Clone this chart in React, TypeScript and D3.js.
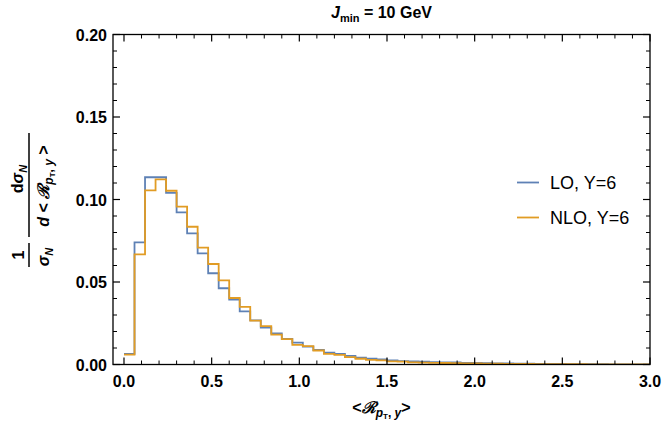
import React from "react";
import * as d3 from "d3";

// histogram bins: 50 bins of width 0.06 starting at 0
const binStart = 0;
const binWidth = 0.06;

const loValues = [
  0.0065, 0.074, 0.1135, 0.1135, 0.104, 0.0922, 0.0795, 0.0674, 0.0553, 0.0462,
  0.0393, 0.0322, 0.0268, 0.0223, 0.0189, 0.0155, 0.0132, 0.0108, 0.0088, 0.0072,
  0.0064, 0.0052, 0.0041, 0.0035, 0.0031, 0.0025, 0.0021, 0.0019, 0.0017, 0.0015,
  0.0013, 0.0012, 0.001, 0.0009, 0.0008, 0.0007, 0.0006, 0.0005, 0.00045, 0.0004,
  0.00035, 0.0003, 0.00026, 0.00022, 0.0002, 0.00016, 0.00013, 0.00011, 0.0001, 0.00008,
];

const nloValues = [
  0.006, 0.0668, 0.1055, 0.1122, 0.1053, 0.0957, 0.0835, 0.0708, 0.0609, 0.051,
  0.0403, 0.0349, 0.0266, 0.0233, 0.0181, 0.0154, 0.0119, 0.0111, 0.0085, 0.0065,
  0.0058, 0.0045, 0.0035, 0.0028, 0.0025, 0.0019, 0.0017, 0.0013, 0.0011, 0.001,
  0.0009, 0.0008, 0.0007, 0.0006, 0.0005, 0.00045, 0.0004, 0.00035, 0.0003, 0.00026,
  0.00022, 0.0002, 0.00017, 0.00014, 0.00012, 0.0001, 0.00008, 0.00007, 0.00006, 0.00005,
];

const seriesNames = ["LO, Y=6", "NLO, Y=6"];
const seriesColors = ["#5E81B5", "#E19C24"];

const xMajorTicks = [0, 0.5, 1.0, 1.5, 2.0, 2.5, 3.0];
const xTickLabels = ["0.0", "0.5", "1.0", "1.5", "2.0", "2.5", "3.0"];
const yMajorTicks = [0, 0.05, 0.1, 0.15, 0.2];
const yTickLabels = ["0.00", "0.05", "0.10", "0.15", "0.20"];

const W = 664;
const H = 426;
const frame = { left: 113, right: 650, top: 34.5, bottom: 364.5 };
const font = "'Liberation Sans', Arial, sans-serif";

const App = () => {
  const x = d3.scaleLinear().domain([-0.0627, 3.0]).range([frame.left, frame.right]);
  const y = d3.scaleLinear().domain([0, 0.2]).range([frame.bottom, frame.top]);

  const xMinor = d3.range(0, 31).map((i) => i / 10).filter((v) => !xMajorTicks.some((m) => Math.abs(m - v) < 1e-9));
  const yMinor = d3.range(0, 21).map((i) => i / 100).filter((v) => !yMajorTicks.some((m) => Math.abs(m - v) < 1e-9));

  const stepLine = d3
    .line<[number, number]>()
    .x((d) => x(d[0]))
    .y((d) => y(d[1]))
    .curve(d3.curveStepAfter);

  const toPoints = (vals: number[]): [number, number][] => {
    const pts: [number, number][] = vals.map((v, i) => [binStart + i * binWidth, v]);
    pts.push([binStart + vals.length * binWidth, vals[vals.length - 1]]);
    return pts;
  };

  const series = [loValues, nloValues];
  const majorLen = 7;
  const minorLen = 4;

  return (
    <svg width={W} height={H} style={{ position: "absolute", left: 0, top: 0, background: "#fff" }} fontFamily={font}>
      <rect width={W} height={H} fill="#fff" />

      {/* title */}
      <text x={(frame.left + frame.right) / 2} y={18} textAnchor="middle" fontSize={16} fontWeight="bold">
        <tspan fontStyle="italic">J</tspan>
        <tspan fontSize={11} dy={4}>min</tspan>
        <tspan dy={-4}> = 10  GeV</tspan>
      </text>

      {/* histograms */}
      <g clipPath="url(#clip)">
        {series.map((vals, i) => (
          <path key={i} d={stepLine(toPoints(vals)) || ""} fill="none" stroke={seriesColors[i]} strokeWidth={1.8} />
        ))}
      </g>
      <defs>
        <clipPath id="clip">
          <rect x={frame.left} y={frame.top} width={frame.right - frame.left} height={frame.bottom - frame.top} />
        </clipPath>
      </defs>

      {/* frame */}
      <rect
        x={frame.left}
        y={frame.top}
        width={frame.right - frame.left}
        height={frame.bottom - frame.top}
        fill="none"
        stroke="#000"
        strokeWidth={1.3}
      />

      {/* x ticks */}
      {xMajorTicks.map((t) => (
        <g key={"xm" + t}>
          <line x1={x(t)} x2={x(t)} y1={frame.bottom} y2={frame.bottom - majorLen} stroke="#000" strokeWidth={1.2} />
          <line x1={x(t)} x2={x(t)} y1={frame.top} y2={frame.top + majorLen} stroke="#000" strokeWidth={1.2} />
        </g>
      ))}
      {xMinor.map((t) => (
        <g key={"xn" + t}>
          <line x1={x(t)} x2={x(t)} y1={frame.bottom} y2={frame.bottom - minorLen} stroke="#000" strokeWidth={1} />
          <line x1={x(t)} x2={x(t)} y1={frame.top} y2={frame.top + minorLen} stroke="#000" strokeWidth={1} />
        </g>
      ))}
      {xMajorTicks.map((t, i) => (
        <text key={"xl" + t} x={x(t)} y={387} textAnchor="middle" fontSize={16} fontWeight="bold">
          {xTickLabels[i]}
        </text>
      ))}

      {/* y ticks */}
      {yMajorTicks.map((t) => (
        <g key={"ym" + t}>
          <line x1={frame.left} x2={frame.left + majorLen} y1={y(t)} y2={y(t)} stroke="#000" strokeWidth={1.2} />
          <line x1={frame.right} x2={frame.right - majorLen} y1={y(t)} y2={y(t)} stroke="#000" strokeWidth={1.2} />
        </g>
      ))}
      {yMinor.map((t) => (
        <g key={"yn" + t}>
          <line x1={frame.left} x2={frame.left + minorLen} y1={y(t)} y2={y(t)} stroke="#000" strokeWidth={1} />
          <line x1={frame.right} x2={frame.right - minorLen} y1={y(t)} y2={y(t)} stroke="#000" strokeWidth={1} />
        </g>
      ))}
      {yMajorTicks.map((t, i) => (
        <text key={"yl" + t} x={107} y={y(t) + 6} textAnchor="end" fontSize={16} fontWeight="bold">
          {yTickLabels[i]}
        </text>
      ))}

      {/* x label */}
      <text x={(frame.left + frame.right) / 2} y={413} textAnchor="middle" fontSize={16} fontWeight="bold">
        {"<"}
        <tspan fontStyle="italic">ℛ</tspan>
        <tspan fontSize={12} dy={4} fontStyle="italic">p</tspan>
        <tspan fontSize={8} dy={2}>T</tspan>
        <tspan fontSize={12} dy={-2}>, </tspan>
        <tspan fontSize={12} fontStyle="italic">y</tspan>
        <tspan dy={-4}>{">"}</tspan>
      </text>

      {/* y label */}
      <g transform="translate(29,0) rotate(-90)" fontWeight="bold" fontSize={16}>
        <line x1={-267} x2={-243} y1={0} y2={0} stroke="#000" strokeWidth={1.5} />
        <text x={-255} y={-5} textAnchor="middle">1</text>
        <text x={-257} y={20} textAnchor="middle">
          <tspan fontStyle="italic">σ</tspan>
          <tspan fontSize={11} dy={4} fontStyle="italic">N</tspan>
        </text>
        <line x1={-237} x2={-133} y1={0} y2={0} stroke="#000" strokeWidth={1.5} />
        <text x={-179} y={-6} textAnchor="middle">
          d<tspan fontStyle="italic">σ</tspan>
          <tspan fontSize={11} dy={4} fontStyle="italic">N</tspan>
        </text>
        <text x={-186} y={20} textAnchor="middle">
          <tspan fontStyle="italic">d</tspan>
          {" < "}
          <tspan fontStyle="italic">ℛ</tspan>
          <tspan fontSize={12} dy={4} fontStyle="italic">p</tspan>
          <tspan fontSize={8} dy={2}>T</tspan>
          <tspan fontSize={12} dy={-2}>, </tspan>
          <tspan fontSize={12} fontStyle="italic">y</tspan>
          <tspan dy={-4}>{" >"}</tspan>
        </text>
      </g>

      {/* legend */}
      {seriesNames.map((name, i) => (
        <g key={name} transform={`translate(0, ${182.5 + i * 35})`}>
          <line x1={517} x2={539} y1={0} y2={0} stroke={seriesColors[i]} strokeWidth={1.8} />
          <text x={550} y={6} fontSize={18}>
            {name}
          </text>
        </g>
      ))}
    </svg>
  );
};

export default App;
